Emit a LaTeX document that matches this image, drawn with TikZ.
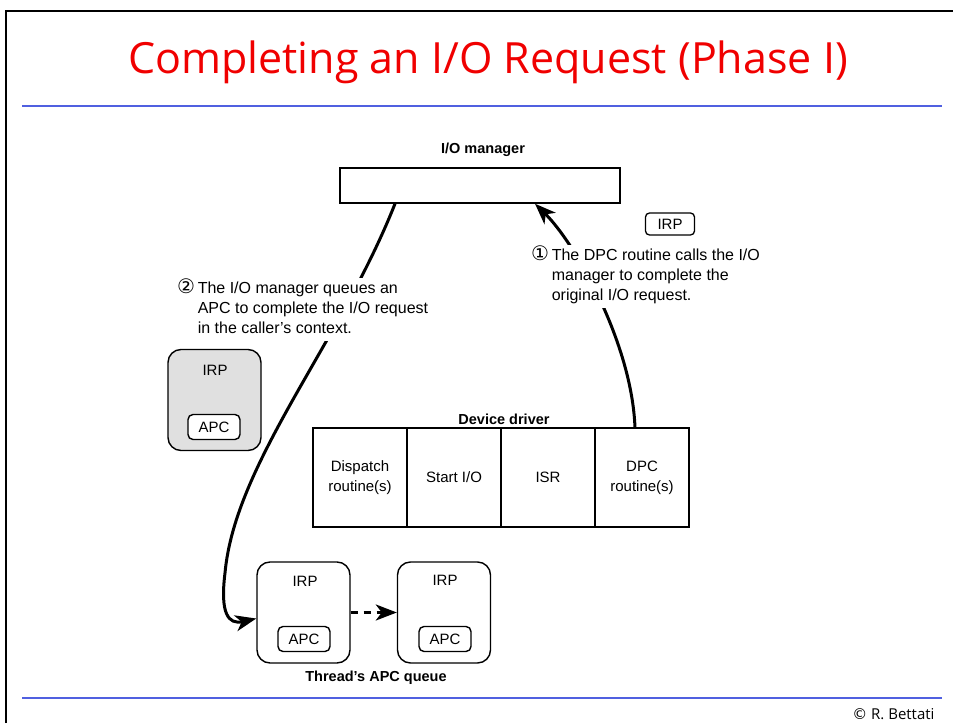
\documentclass[tikz,border=0pt]{standalone}
\usepackage{fontspec}
\setmainfont{Liberation Sans}
\newfontfamily\titlefont{Open Sans}
\newfontfamily\symfont{DejaVu Sans}
\usetikzlibrary{arrows.meta,positioning}
\definecolor{titlered}{RGB}{240,0,0}
\definecolor{rulecol}{RGB}{80,96,224}
\tikzset{
  mgrbox/.style = {draw, line width=1.5pt, minimum width=280pt, minimum height=35pt},
  cellbox/.style = {draw, line width=1.3pt, outer sep=0pt, minimum width=94pt,
    minimum height=99pt, align=center},
  irpbox/.style = {draw, line width=1.4pt, rounded corners=13pt,
    minimum width=93pt, minimum height=101pt},
  apcbox/.style = {draw, line width=1.4pt, rounded corners=5pt,
    minimum width=52pt, minimum height=25pt, inner sep=1pt},
  heading/.style = {font=\fontsize{14.5}{17}\bfseries},
  note/.style = {fill=white, inner sep=1pt, align=left, font=\fontsize{16}{20}\selectfont},
  flow/.style = {-{Stealth[length=21pt,width=16pt,inset=6pt]}, line width=3pt}
}
\newcommand{\bodysize}{\fontsize{15}{20}\selectfont}
\newcommand{\stepno}[1]{{\symfont\fontsize{20}{20}\selectfont #1}}

\begin{document}
\begin{tikzpicture}[x=1pt,y=1pt,font=\bodysize]
  \useasboundingbox (0,0) rectangle (953,723);
  \draw[line width=2.2pt] (6,0) -- (6,712) -- (953,712);
  \node[text=titlered, font=\titlefont\fontsize{43}{46}\selectfont] (title) at (488,661)
    {Completing an I/O Request (Phase I)};
  \draw[rulecol, line width=2pt] (22,617) -- (942,617);
  \draw[rulecol, line width=2pt] (22,25) -- (942,25);
  \node[anchor=east, font=\titlefont\fontsize{15}{17}\selectfont] (copy) at (938,9)
    {\symfont©\titlefont\ R. Bettati};

  \node[heading] (mgrlab) at (483,573) {I/O manager};
  \node[mgrbox] (mgr) at (480,537.5) {};
  \node[draw, line width=1.3pt, rounded corners=4pt, minimum width=49pt,
    minimum height=22pt, inner sep=1pt] (irpa) at (670,499) {IRP};

  \node[heading] (drvlab) at (504,304) {Device driver};
  \node[cellbox] (disp) at (360,245.5) {Dispatch\\routine(s)};
  \node[cellbox, right=0pt of disp] (start) {Start I/O};
  \node[cellbox, right=0pt of start] (isr) {ISR};
  \node[cellbox, right=0pt of isr] (dpc) {DPC\\routine(s)};

  \node[irpbox, fill=gray!24] (pend) at (214.5,323) {};
  \node (irpb) at (215,353) {IRP};
  \node[apcbox, fill=white] (apcb) at (214,296) {APC};

  \node[irpbox] (q1) at (303.5,110.5) {};
  \node (irpq1) at (305,142) {IRP};
  \node[apcbox] (apcq1) at (304,84) {APC};
  \node[irpbox] (q2) at (444,110.5) {};
  \node (irpq2) at (445,143) {IRP};
  \node[apcbox] (apcq2) at (445,84) {APC};
  \node[heading] (qlab) at (376,45) {Thread's APC queue};

  \draw[flow] ([xshift=-7pt]dpc.north) .. controls (632,380) and (575,480)
    .. ([xshift=55pt]mgr.south);
  \draw[flow] ([xshift=-85pt]mgr.south) .. controls (340,380) and (235,260)
    .. (225,150) .. controls (220,110) and (228,98) .. ([yshift=-6pt]q1.west);
  \draw[flow, dash pattern=on 7pt off 6pt] (q1.east) -- (q2.west);

  \node[note, anchor=north west] (step1) at (530,478)
    {\begin{tabular}{@{}l@{\,}l@{}}
      \stepno{①} & The DPC routine calls the I/O\\
       & manager to complete the\\
       & original I/O request.
    \end{tabular}};
  \node[note, anchor=north west] (step2) at (176,445)
    {\begin{tabular}{@{}l@{\,}l@{}}
      \stepno{②} & The I/O manager queues an\\
       & APC to complete the I/O request\\
       & in the caller's context.
    \end{tabular}};
\end{tikzpicture}
\end{document}
